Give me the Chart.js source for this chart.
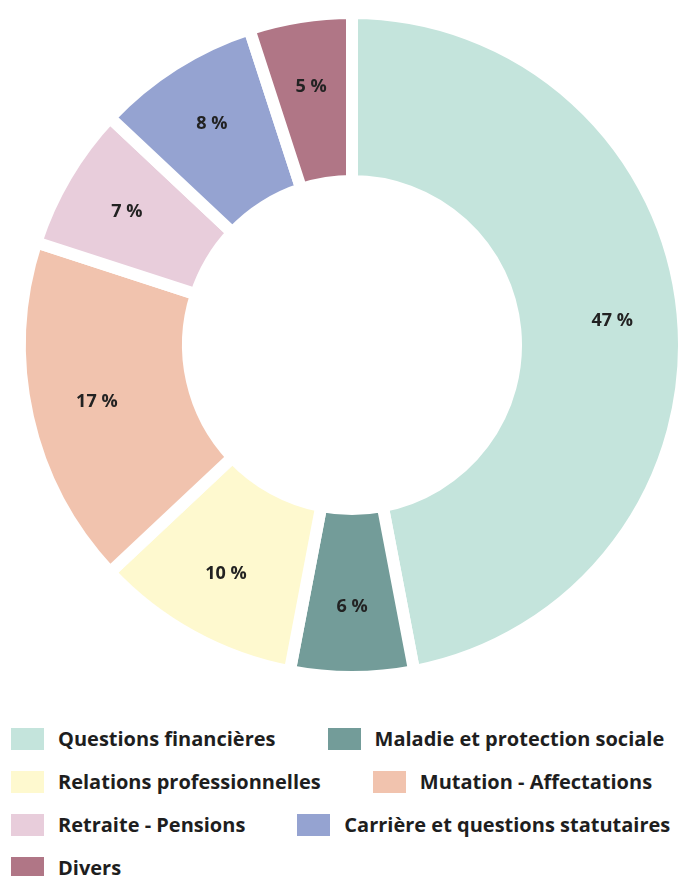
<!DOCTYPE html>
<html lang="fr">
<head>
<meta charset="utf-8">
<title>Répartition des demandes par thème</title>
<script src="https://cdn.jsdelivr.net/npm/chart.js@4.4.1/dist/chart.umd.min.js"></script>
<style>
  html, body { margin: 0; padding: 0; background: #fff; }
  body { width: 682px; height: 876px; overflow: hidden; position: relative; font-family: "Open Sans", Lato, sans-serif; }
  #zone { position: absolute; left: 0; top: 0; }
  #legende { position: absolute; left: 11px; top: 727px; }
  .ligne { display: flex; align-items: center; height: 23px; margin-bottom: 20px; }
  .item { display: flex; align-items: center; margin-right: 52px; }
  .carre { width: 33px; height: 22px; margin-right: 14px; flex: none; }
  .texte { font-weight: 700; font-size: 20px; color: #1e1e1e; white-space: nowrap; line-height: 23px; }
</style>
</head>
<body>
<canvas id="zone" width="682" height="700"></canvas>
<div id="legende"></div>
<script>
const categories = [
  "Questions financières",
  "Maladie et protection sociale",
  "Relations professionnelles",
  "Mutation - Affectations",
  "Retraite - Pensions",
  "Carrière et questions statutaires",
  "Divers"
];
const pourcentages = [47, 6, 10, 17, 7, 8, 5];
const couleurs = ["#c4e4dc", "#739c99", "#fef9cf", "#f1c3ae", "#e8cddb", "#95a3d1", "#b07686"];

// pourcentages écrits au milieu de chaque part
const etiquettes = {
  id: "etiquettes",
  afterDatasetsDraw(chart) {
    const ctx = chart.ctx;
    const meta = chart.getDatasetMeta(0);
    ctx.save();
    ctx.font = "700 18px 'Open Sans'";
    ctx.fillStyle = "#222";
    ctx.textAlign = "center";
    ctx.textBaseline = "middle";
    meta.data.forEach((arc, i) => {
      const p = arc.getProps(["x", "y", "startAngle", "endAngle", "innerRadius", "outerRadius"], true);
      const a = (p.startAngle + p.endAngle) / 2;
      const r = p.innerRadius + (p.outerRadius - p.innerRadius) * 0.58;
      ctx.fillText(pourcentages[i] + " %", p.x + Math.cos(a) * r, p.y + Math.sin(a) * r);
    });
    ctx.restore();
  }
};

new Chart(document.getElementById("zone"), {
  type: "doughnut",
  data: {
    labels: categories,
    datasets: [{
      data: pourcentages,
      backgroundColor: couleurs,
      borderColor: "#fff",
      borderWidth: 12,
      radius: 332,
      cutout: "49.4%"
    }]
  },
  options: {
    responsive: false,
    animation: false,
    layout: { padding: { left: 22, bottom: 10 } },
    plugins: {
      legend: { display: false },
      tooltip: { enabled: false }
    }
  },
  plugins: [etiquettes]
});

// légende en lignes de deux
const legende = document.getElementById("legende");
for (let i = 0; i < categories.length; i += 2) {
  const ligne = document.createElement("div");
  ligne.className = "ligne";
  for (let j = i; j < Math.min(i + 2, categories.length); j++) {
    const item = document.createElement("div");
    item.className = "item";
    const carre = document.createElement("span");
    carre.className = "carre";
    carre.style.background = couleurs[j];
    const texte = document.createElement("span");
    texte.className = "texte";
    texte.textContent = categories[j];
    item.appendChild(carre);
    item.appendChild(texte);
    ligne.appendChild(item);
  }
  legende.appendChild(ligne);
}
</script>
</body>
</html>
